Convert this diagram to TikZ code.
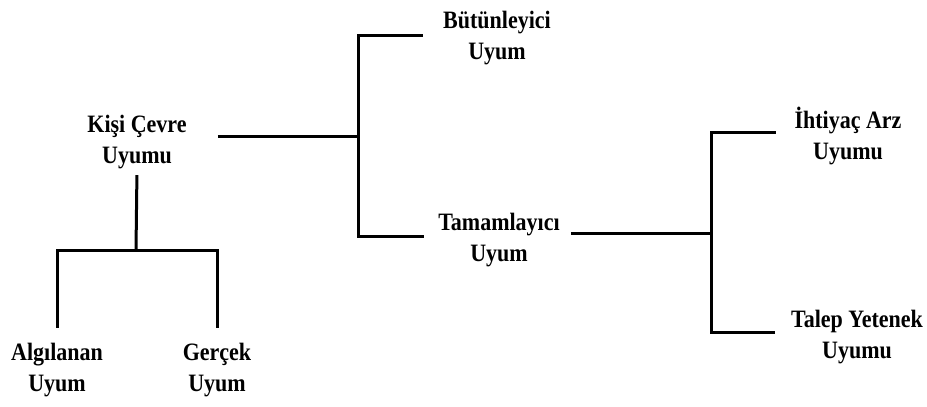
\documentclass[tikz,border=0pt]{standalone}
\usepackage{fontspec}
\setmainfont{Liberation Serif}[FakeStretch=0.88]
\usepackage{tikz}

\tikzset{lbl/.style={font=\fontsize{25}{31}\selectfont\bfseries, align=center, inner sep=0pt},
         branch/.style={line width=3pt}}

\begin{document}
\begin{tikzpicture}[x=1pt,y=-1pt]
\useasboundingbox (0,0) rectangle (927,407);
% labels
\node[lbl] (kisi) at (137,142) {Kişi Çevre\\Uyumu};
\node[lbl] (butun) at (497,38) {Bütünleyici\\Uyum};
\node[lbl] (tamam) at (499,240) {Tamamlayıcı\\Uyum};
\node[lbl] (ihti) at (848,136) {İhtiyaç Arz\\Uyumu};
\node[lbl] (talep) at (857,337) {Talep Yetenek\\Uyumu};
\node[lbl] (algi) at (57,370) {Algılanan\\Uyum};
\node[lbl] (gercek) at (217,370) {Gerçek\\Uyum};
% branch points
\coordinate (j1) at (358,136);
\coordinate (j2) at (711,233);
\coordinate (j3) at (136,250);
% Kisi Cevre -> Butunleyici / Tamamlayici
\draw[branch,shorten <=31pt] (j1 -| kisi.east) -- (j1);
\draw[branch,shorten >=20pt] (j1) |- ([yshift=3pt]butun.west);
\draw[branch,shorten >=14pt] (j1) |- ([yshift=4pt]tamam.west);
% Tamamlayici -> Ihtiyac Arz / Talep Yetenek
\draw[branch,shorten <=11pt] (j2 -| tamam.east) -- (j2);
\draw[branch,shorten >=18pt] (j2) |- ([yshift=4pt]ihti.west);
\draw[branch,shorten >=16pt] (j2) |- ([yshift=5pt]talep.west);
% Kisi Cevre -> Algilanan / Gercek
\draw[branch,shorten <=6pt] (kisi.south) -- (j3);
\draw[branch,shorten >=15pt] (j3) -| (algi.north);
\draw[branch,shorten >=15pt] (j3) -| (gercek.north);
\end{tikzpicture}
\end{document}
